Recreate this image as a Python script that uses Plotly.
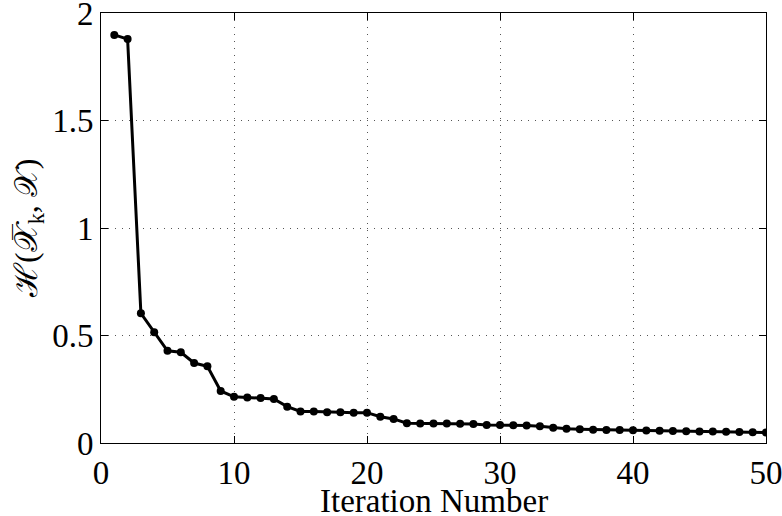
import plotly.graph_objects as go

iterations = list(range(1, 51))
hausdorff = [1.898, 1.879, 0.603, 0.515, 0.429, 0.422, 0.372, 0.357, 0.242, 0.215,
             0.212, 0.209, 0.205, 0.169, 0.147, 0.146, 0.143, 0.143, 0.141, 0.141,
             0.122, 0.112, 0.092, 0.091, 0.091, 0.091, 0.089, 0.088, 0.084, 0.084,
             0.082, 0.081, 0.078, 0.071, 0.066, 0.064, 0.062, 0.061, 0.060, 0.059,
             0.058, 0.057, 0.056, 0.055, 0.054, 0.053, 0.052, 0.051, 0.050, 0.049]
x_ticks = [0, 10, 20, 30, 40, 50]
y_ticks = [0, 0.5, 1, 1.5, 2]
y_tick_text = ["0", "0.5", "1", "1.5", "2"]
x_title = "Iteration Number"
y_title = "ℋ(𝒳\u0305<sub>k</sub>, 𝒳)"

fig = go.Figure()
fig.add_trace(go.Scatter(
    x=iterations, y=hausdorff, mode="lines+markers",
    line=dict(color="black", width=3),
    marker=dict(color="black", size=8),
    showlegend=False,
))

font = "Liberation Serif, Times New Roman, serif"
axis_common = dict(
    showline=True, mirror="ticks", linecolor="black", linewidth=1,
    showgrid=True, gridcolor="#555555", griddash="1px,6px", gridwidth=1,
    ticks="inside", ticklen=7, tickcolor="black",
    zeroline=False, ticklabeloverflow="allow", automargin=False,
    tickfont=dict(family=font, size=33, color="black"),
)

fig.update_layout(
    width=782, height=516,
    margin=dict(l=101, r=16, t=13, b=73),
    paper_bgcolor="white", plot_bgcolor="white",
    xaxis=dict(range=[0, 50], tickvals=x_ticks, **axis_common),
    yaxis=dict(range=[0, 2], tickvals=y_ticks, ticktext=y_tick_text, **axis_common),
    annotations=[
        dict(text=x_title, xref="paper", yref="paper", x=0.5, y=0,
             yshift=-58, xanchor="center", yanchor="middle", showarrow=False,
             font=dict(family=font, size=33, color="black")),
        dict(text=y_title, xref="paper", yref="paper", x=0, y=0.5,
             xshift=-73, xanchor="center", yanchor="middle", showarrow=False,
             textangle=-90, font=dict(family=font, size=32, color="black")),
    ],
)

fig.write_html("out.html")
